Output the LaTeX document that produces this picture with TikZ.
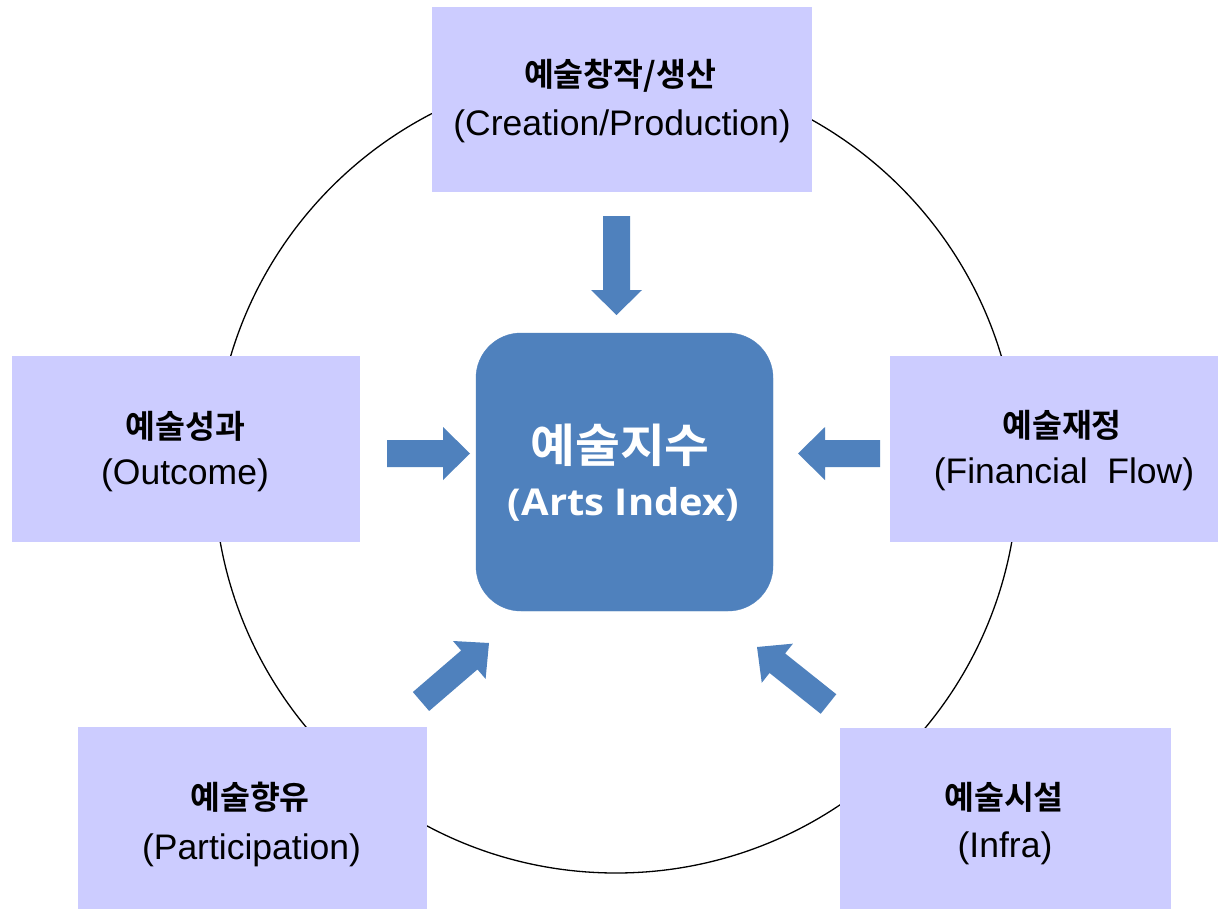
\documentclass[tikz,border=0pt]{standalone}
\usepackage{fontspec}
\setmainfont{Liberation Sans}
\newfontfamily\kr{Noto Sans CJK KR}[BoldFont={Noto Sans CJK KR Bold}]
\newfontfamily\krw{Noto Sans CJK KR}[BoldFont={Noto Sans CJK KR Bold},FakeStretch=1.06]
\newfontfamily\latw{Open Sans}[FakeStretch=1.08]
\usetikzlibrary{calc}
\definecolor{boxfill}{HTML}{CCCCFF}
\definecolor{arrowblue}{HTML}{4F81BD}
% #1 tail, #2 tip, #3 shaft half width, #4 head half width, #5 head length
\newcommand\blockarrow[5]{%
  \coordinate (ba-m) at ($(#2)!#5pt!(#1)$);
  \fill[arrowblue] ($(#1)!#3pt!90:(#2)$) -- ($(ba-m)!#3pt!-90:(#1)$) -- ($(ba-m)!#4pt!-90:(#1)$) -- (#2)
    -- ($(ba-m)!#4pt!90:(#1)$) -- ($(ba-m)!#3pt!90:(#1)$) -- ($(#1)!#3pt!-90:(#2)$) -- cycle;
}
\begin{document}
\begin{tikzpicture}[x=1pt,y=-1pt,
  box/.style={fill=boxfill, draw=none, inner sep=0pt, outer sep=0pt},
  ktext/.style={inner sep=0pt, font=\kr\bfseries\fontsize{32.5}{36}\selectfont},
  ltext/.style={inner sep=0pt, font=\fontsize{35.5}{40}\selectfont},
  ckt/.style={inner sep=0pt, text=white, font=\krw\bfseries\fontsize{46}{50}\selectfont},
  clt/.style={inner sep=0pt, text=white, font=\latw\bfseries\fontsize{37}{40}\selectfont}]
\useasboundingbox (0,0) rectangle (1218,910);
\fill[white] (0,0) rectangle (1218,910);
% circle
\coordinate (cc) at (616,471);
\draw[line width=1.3pt] (cc) circle[radius=402];
% boxes
\node[box, minimum width=380pt, minimum height=185pt] (top) at (622,99.5) {};
\node[box, minimum width=348pt, minimum height=186pt] (left) at (186,449) {};
\node[box, minimum width=328pt, minimum height=186pt] (right) at (1054,449) {};
\node[box, minimum width=349pt, minimum height=182pt] (bl) at (252.5,818) {};
\node[box, minimum width=331pt, minimum height=181pt] (br) at (1005.5,818.5) {};
\node[fill=arrowblue, draw=arrowblue, rounded corners=45pt, minimum width=297pt, minimum height=278pt, inner sep=0pt] (core) at (624.5,472) {};
% texts
\node[ktext] (topk) at (620,76) {예술창작/생산};
\node[ltext] (topl) at (622,126) {(Creation/Production)};
\node[ktext] (leftk) at (185.5,426) {예술성과};
\node[ltext] (leftl) at (185,475) {(Outcome)};
\node[ktext] (rightk) at (1062,425) {예술재정};
\node[ltext] (rightl) at (1064,474) {(Financial~~Flow)};
\node[ktext] (blk) at (250,797) {예술향유};
\node[ltext] (bll) at (251.5,850) {(Participation)};
\node[ktext] (brk) at (1004,797) {예술시설};
\node[ltext] (brl) at (1005,848) {(Infra)};
\node[ckt] (corek) at (620,445) {예술지수};
\node[clt] (corel) at (623.5,504) {(Arts Index)};
% arrows
\coordinate (a1t) at (616.5,216); \coordinate (a1h) at (616.5,315);
\coordinate (a2t) at (387,453.5); \coordinate (a2h) at (470,453.5);
\coordinate (a3t) at (880,453.5); \coordinate (a3h) at (798,453.5);
\coordinate (a4t) at (421,701.5); \coordinate (a4h) at (489,643);
\coordinate (a5t) at (828.5,704); \coordinate (a5h) at (757,647);
\blockarrow{a1t}{a1h}{13.5}{25.5}{25}
\blockarrow{a2t}{a2h}{13.5}{26.5}{27}
\blockarrow{a3t}{a3h}{13.5}{26.5}{27}
\blockarrow{a4t}{a4h}{12.5}{25}{26}
\blockarrow{a5t}{a5h}{12.5}{25}{26}
\end{tikzpicture}
\end{document}
